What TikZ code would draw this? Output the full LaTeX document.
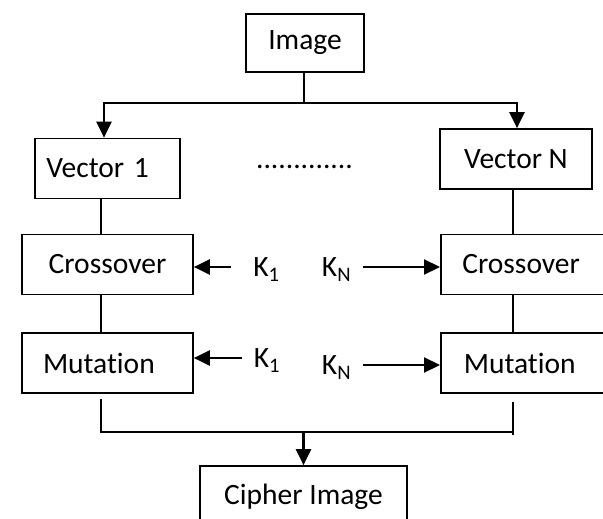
\documentclass[tikz,border=0pt]{standalone}
\usepackage{fontspec}
\setmainfont{Carlito}[Ligatures=NoCommon]
\usepackage{tikz}
\usetikzlibrary{arrows.meta, positioning}

\begin{document}
\begin{tikzpicture}[
          x=1pt, y=-1pt,
          font=\fontsize{29.5}{35}\selectfont,
          line width=1.7pt,
          block/.style={draw, minimum height=60pt, inner ysep=0pt},
          key/.style={inner xsep=11pt, inner ysep=0pt, text depth=0pt},
          arr/.style={-{Triangle[length=16pt, width=15pt]}, line width=2.2pt}
        ]
          \useasboundingbox (0,0) rectangle (603,519);
          \clip (0,0) rectangle (603,519);

          % blocks
          \node[block, minimum width=118pt, minimum height=58pt] (img) at (305,43) {Image};
          \node[block, text width=122pt, align=left, inner xsep=11.5pt] (vec1) at (107.3,168.5) {Vector 1};
          \node[block, minimum width=152pt] (vecN) at (516,159) {Vector N};
          \node[block, minimum width=171pt] (cross1) at (107.5,264.5) {Crossover};
          \node[block, text width=129pt, align=left, inner xsep=21pt] (mut1) at (107.5,363) {Mutation};
          \node[block, anchor=west, text width=160pt, align=left, inner xsep=21.5pt] (cross2) at (440,264.5) {Crossover};
          \node[block, anchor=west, text width=160pt, align=left, inner xsep=23pt] (mut2) at (440,363) {Mutation};
          \node[block, minimum width=207pt, minimum height=62pt] (cipher) at (303.5,497) {Cipher Image};
          \node (dots) at (304.5,167) {.............};

          % keys
          \node[key, inner xsep=22pt] (k1c) at (266.5,267) {K\textsubscript{1}};
          \node[key] (knc) at (336.5,267) {K\textsubscript{N}};
          \node[key] (k1m) at (267,358) {K\textsubscript{1}};
          \node[key] (knm) at (336.5,365) {K\textsubscript{N}};

          % split and join points
          \coordinate (split) at (304,103);
          \coordinate (la) at (104,103);
          \coordinate (ra) at (517,103);
          \coordinate (lft) at (101,0);
          \coordinate (rgt) at (513,0);
          \coordinate (bl) at (101,432);
          \coordinate (br) at (513,432);

          \draw (img.south -| split) -- (split);
          \draw[arr] (split) -- (la) -- (la |- vec1.north);
          \draw[arr] (split) -- (ra) -- (ra |- vecN.north);

          \draw (vec1.south -| lft) -- (cross1.north -| lft);
          \draw (cross1.south -| lft) -- (mut1.north -| lft);
          \draw (vecN.south -| rgt) -- (cross2.north -| rgt);
          \draw (cross2.south -| rgt) -- (mut2.north -| rgt);

          \draw[arr] (k1c) -- (k1c -| cross1.east);
          \draw[arr] (knc) -- (knc -| cross2.west);
          \draw[arr] (k1m) -- (k1m -| mut1.east);
          \draw[arr] (knm) -- (knm -| mut2.west);

          \draw[shorten <=5pt] (mut1.south -| bl) -- (bl) -- (br);
          \draw[shorten <=8pt, shorten >=-3pt] (mut2.south -| br) -- (br);
          \draw[arr] (cipher.north |- bl) -- (cipher.north);
        \end{tikzpicture}
\end{document}
